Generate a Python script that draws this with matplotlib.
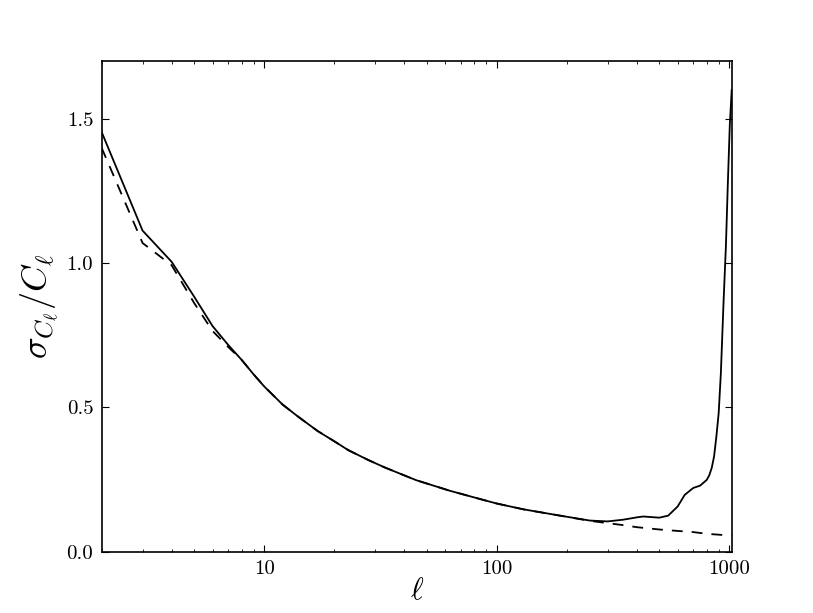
import numpy as np
import matplotlib
matplotlib.use("Agg")
import matplotlib.pyplot as plt
from matplotlib.ticker import LogLocator, NullFormatter

plt.rcParams.update({
    "font.family": "serif",
    "font.serif": ["cmr10", "DejaVu Serif"],
    "mathtext.fontset": "cm",
    "axes.formatter.use_mathtext": True,
    "axes.unicode_minus": False,
})

# values
ell_full = [2, 3, 4, 5, 6, 7, 8, 9, 10, 12, 14, 17, 20, 23, 28, 33, 45, 63, 88, 100,
            114, 130, 181, 251, 300, 350, 400, 426, 500, 546, 600, 643, 700, 749,
            800, 820, 840, 860, 880, 900, 920, 944, 967, 985, 1005, 1024]
sigma_full = [1.455, 1.113, 1.005, 0.884, 0.782, 0.717, 0.665, 0.615, 0.573, 0.510,
              0.468, 0.418, 0.383, 0.352, 0.318, 0.292, 0.248, 0.211, 0.179, 0.167,
              0.157, 0.147, 0.127, 0.108, 0.105, 0.111, 0.119, 0.122, 0.118, 0.125,
              0.157, 0.197, 0.221, 0.229, 0.249, 0.265, 0.290, 0.330, 0.400, 0.480,
              0.620, 0.860, 1.060, 1.270, 1.480, 1.600]

ell_cv = [2, 3, 4, 5, 6, 7, 8, 9, 10, 12, 14, 17, 20, 23, 28, 33, 45, 63, 88, 100,
          114, 130, 181, 251, 300, 350, 400, 500, 600, 700, 800, 900, 1000, 1024]
sigma_cv = [1.40, 1.070, 0.993, 0.862, 0.765, 0.710, 0.665, 0.615, 0.573, 0.510,
            0.468, 0.418, 0.383, 0.352, 0.318, 0.292, 0.248, 0.211, 0.179, 0.167,
            0.157, 0.147, 0.127, 0.107, 0.099, 0.092, 0.085, 0.077, 0.072, 0.068,
            0.062, 0.059, 0.056, 0.055]

xticks = [10, 100, 1000]
xticklabels = ["10", "100", "1000"]
yticks = [0.0, 0.5, 1.0, 1.5]
yticklabels = ["0.0", "0.5", "1.0", "1.5"]

fig = plt.figure(figsize=(8.13, 6.13), dpi=100)
ax = fig.add_axes([0.125, 0.1, 0.775, 0.8])

ax.plot(ell_full, sigma_full, color="k", lw=1.3)
ax.plot(ell_cv, sigma_cv, color="k", lw=1.3, ls=(0, (6, 5)))

ax.set_xscale("log")
ax.set_xlim(2, 1024)
ax.set_ylim(0, 1.7)

ax.set_xticks(xticks)
ax.set_xticklabels(xticklabels)
ax.xaxis.set_minor_locator(LogLocator(base=10, subs=np.arange(2, 10)))
ax.xaxis.set_minor_formatter(NullFormatter())
ax.set_yticks(yticks)
ax.set_yticklabels(yticklabels)

ax.tick_params(which="both", direction="in", top=True, right=True, labelsize=15, pad=6)
ax.tick_params(which="major", length=5, width=0.8)
ax.tick_params(which="minor", length=2.5, width=0.6)
for s in ax.spines.values():
    s.set_linewidth(1.2)

ax.set_xlabel(r"$\ell$", fontsize=22, labelpad=0)
ax.set_ylabel(r"$\sigma_{C_\ell}/C_\ell$", fontsize=26, labelpad=4)

fig.savefig("out.png", dpi=100, facecolor="white")
